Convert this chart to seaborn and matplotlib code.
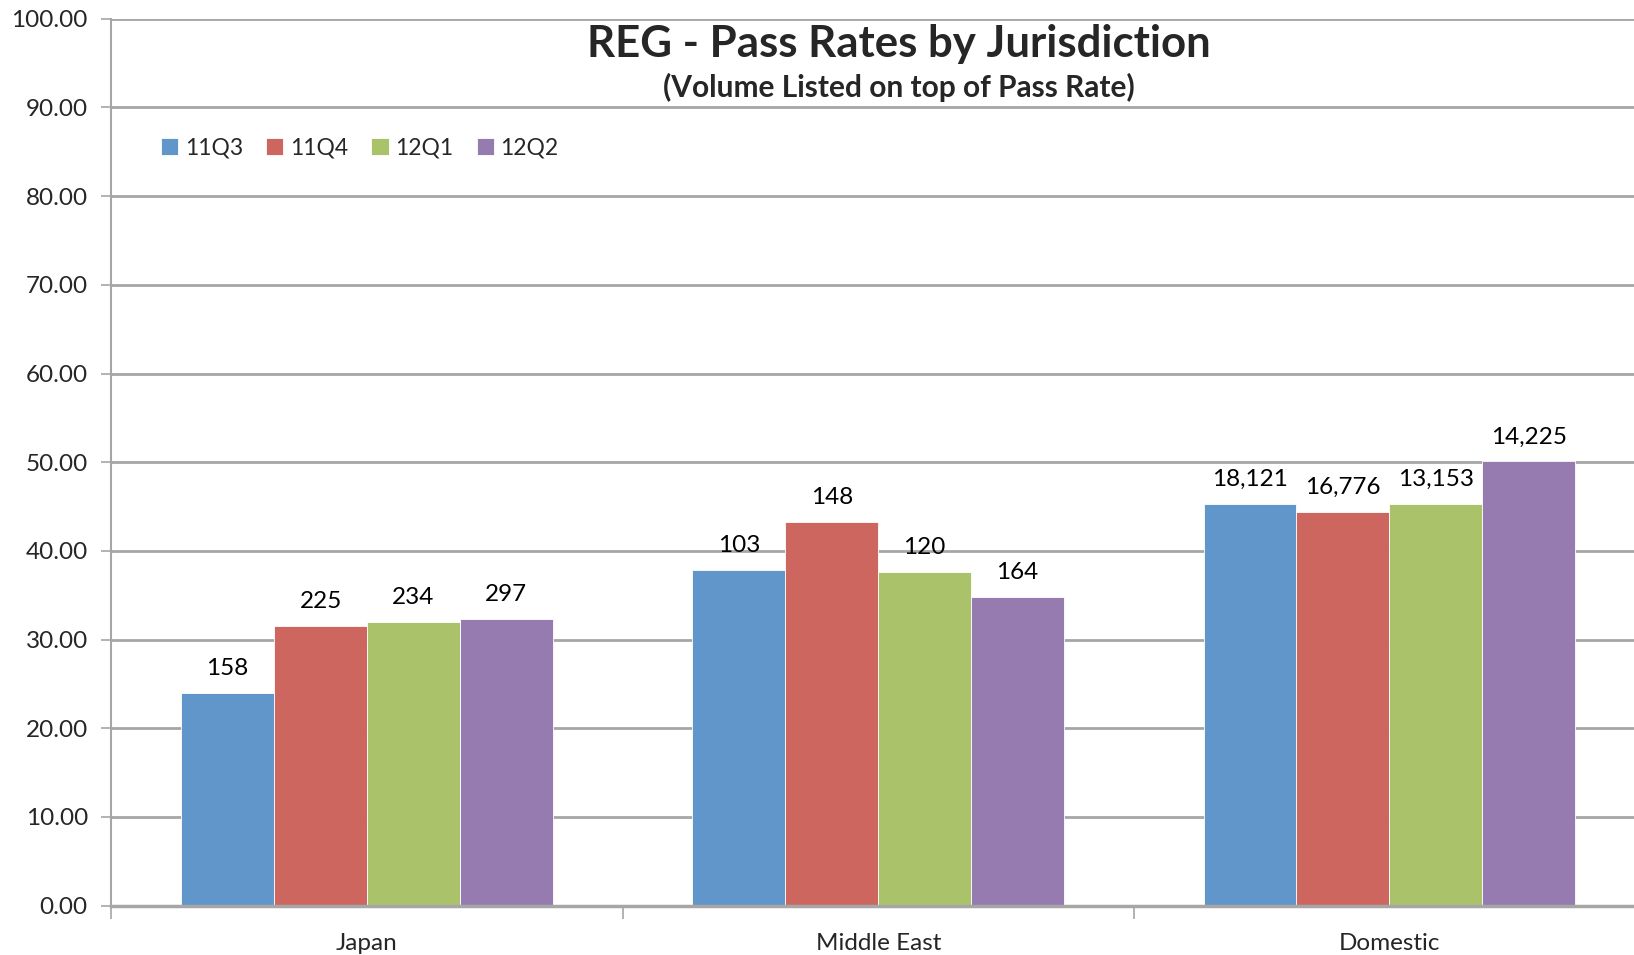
import pandas as pd
import matplotlib.pyplot as plt
import seaborn as sns
from matplotlib.ticker import FixedLocator, NullFormatter

# --- Data ---
JURISDICTIONS = ["Japan", "Middle East", "Domestic"]
QUARTERS = ["11Q3", "11Q4", "12Q1", "12Q2"]

# pass rate (%) per quarter, in jurisdiction order
RATE_11Q3 = [24.0, 37.9, 45.3]
RATE_11Q4 = [31.5, 43.3, 44.4]
RATE_12Q1 = [32.0, 37.6, 45.3]
RATE_12Q2 = [32.3, 34.8, 50.1]

# exam volume shown above each bar
VOL_11Q3 = [158, 103, 18121]
VOL_11Q4 = [225, 148, 16776]
VOL_12Q1 = [234, 120, 13153]
VOL_12Q2 = [297, 164, 14225]

COLORS = ["#6096C9", "#CD665F", "#AAC36A", "#957BB0"]
GRID = "#A6A6A6"


def main():
    rates = [RATE_11Q3, RATE_11Q4, RATE_12Q1, RATE_12Q2]
    vols = [VOL_11Q3, VOL_11Q4, VOL_12Q1, VOL_12Q2]

    rows = []
    for q, r in zip(QUARTERS, rates):
        for j, v in zip(JURISDICTIONS, r):
            rows.append({"Jurisdiction": j, "Quarter": q, "PassRate": v})
    df = pd.DataFrame(rows)

    sns.set_theme(style="white")
    plt.rcParams["font.family"] = ["Lato", "DejaVu Sans"]

    fig = plt.figure(figsize=(16.34, 9.55), dpi=100)
    # plot area runs slightly past the right edge, like the Excel export
    ax = fig.add_axes([0.0682, 0.0517, 0.9385, 0.9286])

    sns.barplot(
        data=df, x="Jurisdiction", y="PassRate", hue="Quarter",
        order=JURISDICTIONS, hue_order=QUARTERS, palette=COLORS,
        width=0.727, gap=0, saturation=1, errorbar=None,
        edgecolor="white", linewidth=0.6, ax=ax,
    )

    # volumes on top of each bar
    for cont, v in zip(ax.containers, vols):
        ax.bar_label(cont, labels=[f"{x:,}" for x in v], padding=10,
                     fontsize=17.5, color="black")

    # axes styling (Excel look)
    ax.set_ylim(0, 100)
    ax.set_xlim(-0.5, 2.5)
    ax.set_yticks(range(0, 101, 10))
    ax.set_yticklabels([f"{t:.2f}" for t in range(0, 101, 10)], fontsize=17.5)
    ax.yaxis.grid(True, color=GRID, linewidth=2)
    ax.set_axisbelow(True)
    ax.tick_params(axis="y", which="major", left=True, length=7, width=1.2,
                   color=GRID, pad=10)

    ax.tick_params(axis="x", which="major", length=0, labelsize=17.5, pad=20)
    ax.xaxis.set_minor_locator(FixedLocator([-0.5, 0.5, 1.5, 2.5]))
    ax.xaxis.set_minor_formatter(NullFormatter())
    ax.tick_params(axis="x", which="minor", bottom=True, length=9,
                   width=1.2, color=GRID)

    for side in ["top", "right"]:
        ax.spines[side].set_visible(False)
    ax.spines["left"].set_color(GRID)
    ax.spines["left"].set_linewidth(1.5)
    ax.spines["bottom"].set_color(GRID)
    ax.spines["bottom"].set_linewidth(2.5)

    ax.set_xlabel("")
    ax.set_ylabel("")

    # title + subtitle inside the plot area
    fig.text(0.550, 0.954, "REG - Pass Rates by Jurisdiction", fontsize=31.5,
             fontweight="bold", ha="center", va="center")
    fig.text(0.550, 0.908, "(Volume Listed on top of Pass Rate)", fontsize=21.5,
             fontweight="bold", ha="center", va="center")

    ax.legend(loc="upper left", bbox_to_anchor=(0.019, 0.889), ncol=4,
              frameon=False, fontsize=16.5, handlelength=0.75,
              handleheight=0.75, handletextpad=0.3, columnspacing=1.0)

    fig.savefig("out.png", dpi=100)


if __name__ == "__main__":
    main()
